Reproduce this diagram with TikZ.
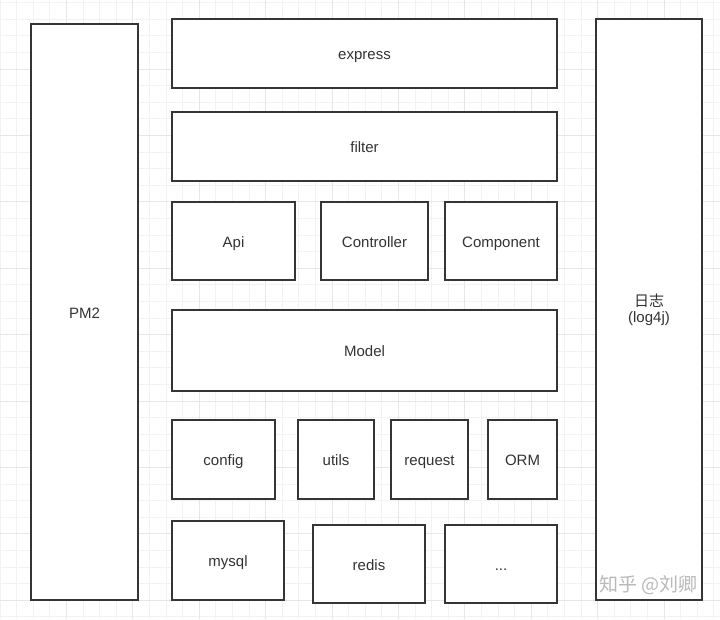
\documentclass[tikz,border=0pt]{standalone}
\usepackage{fontspec}
\setmainfont{Liberation Sans}
\newfontfamily\cjk{Noto Sans CJK SC}
\usetikzlibrary{positioning}

\definecolor{boxline}{HTML}{353535}
\definecolor{boxtext}{HTML}{333333}
\definecolor{gridminor}{HTML}{F2F2F2}
\definecolor{gridmajor}{HTML}{E6E6E6}

\begin{document}
\begin{tikzpicture}[%
        x=1pt,
        y=-1pt,
        layer/.style={%
          rectangle,
          draw=boxline,
          line width=2pt,
          fill=white,
          inner sep=0pt,
          text=boxtext,
          font=\fontsize{15}{18}\selectfont,
          text height=15pt,
          text depth=3pt
        },
        minorline/.style={draw=gridminor, line width=0.8pt},
        majorline/.style={draw=gridmajor, line width=1pt}
      ]
      \useasboundingbox (0,0) rectangle (720,619);
      \fill[white] (0,0) rectangle (720,619);
      % background grid
      \foreach \i in {0,...,43} {
        \draw[minorline] (\i*16.6,0) -- (\i*16.6,619);
      }
      \foreach \j in {0,...,37} {
        \draw[minorline] (0,2.6+\j*16.6) -- (720,2.6+\j*16.6);
      }
      \foreach \i in {1,...,10} {
        \draw[majorline] (\i*66.4,0) -- (\i*66.4,619);
      }
      \foreach \j in {0,...,8} {
        \draw[majorline] (0,69+\j*66.4) -- (720,69+\j*66.4);
      }

      % side columns
      \node[layer, minimum width=107pt, minimum height=576pt] (pm2) at (84.5,312) {PM2};
      \node[layer, text height=, text depth=, align=center, font=\fontsize{15}{16.5}\selectfont,
            minimum width=106pt, minimum height=581pt] (log) at (649,309.5) {{\cjk 日志}\\(log4j)};

      % middle stack
      \node[layer, minimum width=385pt, minimum height=69pt] (express) at (364.5,53.5) {express};
      \node[layer, minimum width=385pt, minimum height=69pt] (filter) at (364.5,146.5) {filter};
      \node[layer, minimum width=123pt, minimum height=78pt] (api) at (233.5,241) {Api};
      \node[layer, minimum width=107pt, minimum height=78pt] (controller) at (374.5,241) {Controller};
      \node[layer, minimum width=112pt, minimum height=78pt] (component) at (501,241) {Component};
      \node[layer, minimum width=385pt, minimum height=81pt] (model) at (364.5,350.5) {Model};
      \node[layer, minimum width=103pt, minimum height=79pt] (config) at (223.5,459.5) {config};
      \node[layer, minimum width=76pt, minimum height=79pt] (utils) at (336,459.5) {utils};
      \node[layer, minimum width=77pt, minimum height=79pt] (request) at (429.5,459.5) {request};
      \node[layer, minimum width=69pt, minimum height=79pt] (orm) at (522.5,459.5) {ORM};
      \node[layer, minimum width=112pt, minimum height=79pt] (mysql) at (228,560.5) {mysql};
      \node[layer, minimum width=112pt, minimum height=78pt] (redis) at (369,564) {redis};
      \node[layer, minimum width=112pt, minimum height=78pt] (more) at (501,564) {...};

      % watermark
      \node[text=gray!55, font=\cjk\fontsize{19}{21}\selectfont, anchor=east] (mark) at (701,585) {知乎 @刘卿};
  \end{tikzpicture}
\end{document}
